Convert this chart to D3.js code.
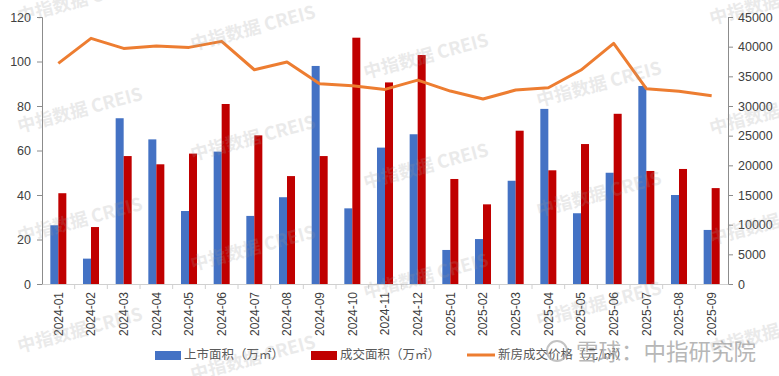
<!DOCTYPE html>
<html>
<head>
<meta charset="utf-8">
<script src="https://cdn.jsdelivr.net/npm/d3@7"></script>
<style>
  body { margin: 0; background: #fff; }
  text { font-family: "Liberation Sans", Arial, sans-serif; }
</style>
</head>
<body>
<div id="chart"></div>
<script>
var months = ["2024-01","2024-02","2024-03","2024-04","2024-05","2024-06","2024-07","2024-08","2024-09","2024-10","2024-11","2024-12",
              "2025-01","2025-02","2025-03","2025-04","2025-05","2025-06","2025-07","2025-08","2025-09"];
var listedArea = [26.4,11.4,74.5,65.0,32.8,59.5,30.6,39.0,98.0,34.0,61.3,67.3,15.3,20.2,46.4,78.7,31.8,50.0,89.0,40.0,24.3];
var soldArea   = [40.8,25.6,57.5,53.8,58.6,80.9,66.8,48.5,57.5,110.7,90.6,102.9,47.2,35.8,68.9,51.1,62.9,76.5,50.8,51.7,43.1];
var price      = [37180,41400,39710,40100,39880,40890,36110,37410,33750,33420,32800,34370,32520,31170,32690,33080,36060,40560,32910,32470,31730];
var leftTicks  = [0,20,40,60,80,100,120];
var rightTicks = [0,5000,10000,15000,20000,25000,30000,35000,40000,45000];
var seriesNames = ["上市面积（万㎡）","成交面积（万㎡）","新房成交价格（元/㎡）"];
var colors = ["#4472C4","#C00000","#ED7D31"];

var W = 779, H = 376;
var margin = {top: 17, right: 51, bottom: 92, left: 42};
var width = W - margin.left - margin.right;
var height = H - margin.top - margin.bottom;

var svg = d3.select("#chart").append("svg")
    .attr("width", W).attr("height", H);
var g = svg.append("g")
    .attr("transform", "translate(" + margin.left + "," + margin.top + ")");

var x = d3.scaleBand().domain(months).range([0, width]).padding(0);
var xSub = d3.scaleBand().domain([0,1]).range([0, x.bandwidth()]).paddingInner(0).paddingOuter(1.04);
var yL = d3.scaleLinear().domain([0,120]).range([height, 0]);
var yR = d3.scaleLinear().domain([0,45000]).range([height, 0]);

// bars
[listedArea, soldArea].forEach(function(vals, s) {
    g.append("g").selectAll("rect")
        .data(vals)
        .enter().append("rect")
        .attr("x", function(d,i) { return x(months[i]) + xSub(s); })
        .attr("y", function(d) { return yL(d); })
        .attr("width", xSub.bandwidth())
        .attr("height", function(d) { return height - yL(d); })
        .attr("fill", colors[s]);
});

// line
g.append("path")
    .datum(price)
    .attr("fill", "none")
    .attr("stroke", colors[2])
    .attr("stroke-width", 3)
    .attr("stroke-linejoin", "round")
    .attr("d", d3.line()
        .x(function(d,i) { return x(months[i]) + x.bandwidth()/2; })
        .y(function(d) { return yR(d); }));

// left axis
var axL = g.append("g")
    .call(d3.axisLeft(yL).tickValues(leftTicks).tickSize(5).tickPadding(6));
// right axis
var axR = g.append("g")
    .attr("transform", "translate(" + width + ",0)")
    .call(d3.axisRight(yR).tickValues(rightTicks).tickSize(5).tickPadding(5).tickFormat(d3.format("d")));
[axL, axR].forEach(function(a) {
    a.select(".domain").attr("stroke", "#8c8c8c");
    a.selectAll(".tick line").attr("stroke", "#8c8c8c");
    a.selectAll("text").attr("fill", "#404040").style("font-size", "12.5px");
});

// bottom axis
var axB = g.append("g")
    .attr("transform", "translate(0," + height + ")")
    .call(d3.axisBottom(x).tickSize(0).tickPadding(0));
axB.select(".domain").attr("stroke", "#d0d0d0");
axB.selectAll(".tick text")
    .attr("fill", "#404040")
    .style("font-size", "12px")
    .attr("transform", "rotate(-90)")
    .attr("text-anchor", "end")
    .attr("dx", "-8")
    .attr("dy", "0.35em")
    .attr("y", 0);
axB.selectAll(".boundary")
    .data(months.slice(1))
    .enter().append("line")
    .attr("x1", function(d) { return x(d); })
    .attr("x2", function(d) { return x(d); })
    .attr("y1", 0).attr("y2", 5)
    .attr("stroke", "#d0d0d0");

// legend
var legend = svg.append("g").attr("transform", "translate(0,355)");
var legX = [155, 311, 467];
seriesNames.forEach(function(name, i) {
    var item = legend.append("g").attr("transform", "translate(" + legX[i] + ",0)");
    if (i < 2) {
        item.append("rect").attr("x", 0).attr("y", -4).attr("width", 26).attr("height", 9).attr("fill", colors[i]);
    } else {
        item.append("line").attr("x1", 0).attr("x2", 28).attr("y1", 0).attr("y2", 0)
            .attr("stroke", colors[i]).attr("stroke-width", 3);
    }
    item.append("text")
        .attr("x", i < 2 ? 29 : 31)
        .attr("y", 0)
        .attr("dy", "0.35em")
        .attr("fill", "#595959")
        .style("font-family", "'Noto Sans CJK SC', sans-serif")
        .style("font-size", "12.5px")
        .text(name);
});

// watermarks
var wm = svg.append("g").attr("pointer-events", "none");
for (var k = 0; k < 5; k++) {
    for (var j = -1; j < 4; j++) {
        var cx = 80 + 173 * k;
        var cy = 110 * j + 28 * k;
        if (cy < -5 || cy > 360) continue;
        wm.append("text")
            .attr("transform", "translate(" + cx + "," + cy + ") rotate(-15)")
            .attr("text-anchor", "middle")
            .attr("dy", "0.35em")
            .attr("fill", "#999")
            .attr("opacity", 0.2)
            .style("font-family", "'Noto Sans CJK SC', sans-serif")
            .style("font-size", "18px")
            .style("font-weight", "bold")
            .text("中指数据  CREIS");
    }
}
svg.append("text")
    .attr("x", 576).attr("y", 352)
    .attr("dy", "0.35em")
    .attr("fill", "#999")
    .attr("opacity", 0.7)
    .style("font-family", "'Noto Sans CJK SC', sans-serif")
    .style("font-size", "22.5px")
    .text("雪球：中指研究院");
svg.append("circle")
    .attr("cx", 557).attr("cy", 351).attr("r", 10)
    .attr("fill", "none").attr("stroke", "#aaa").attr("stroke-width", 2).attr("opacity", 0.7);
</script>
</body>
</html>
